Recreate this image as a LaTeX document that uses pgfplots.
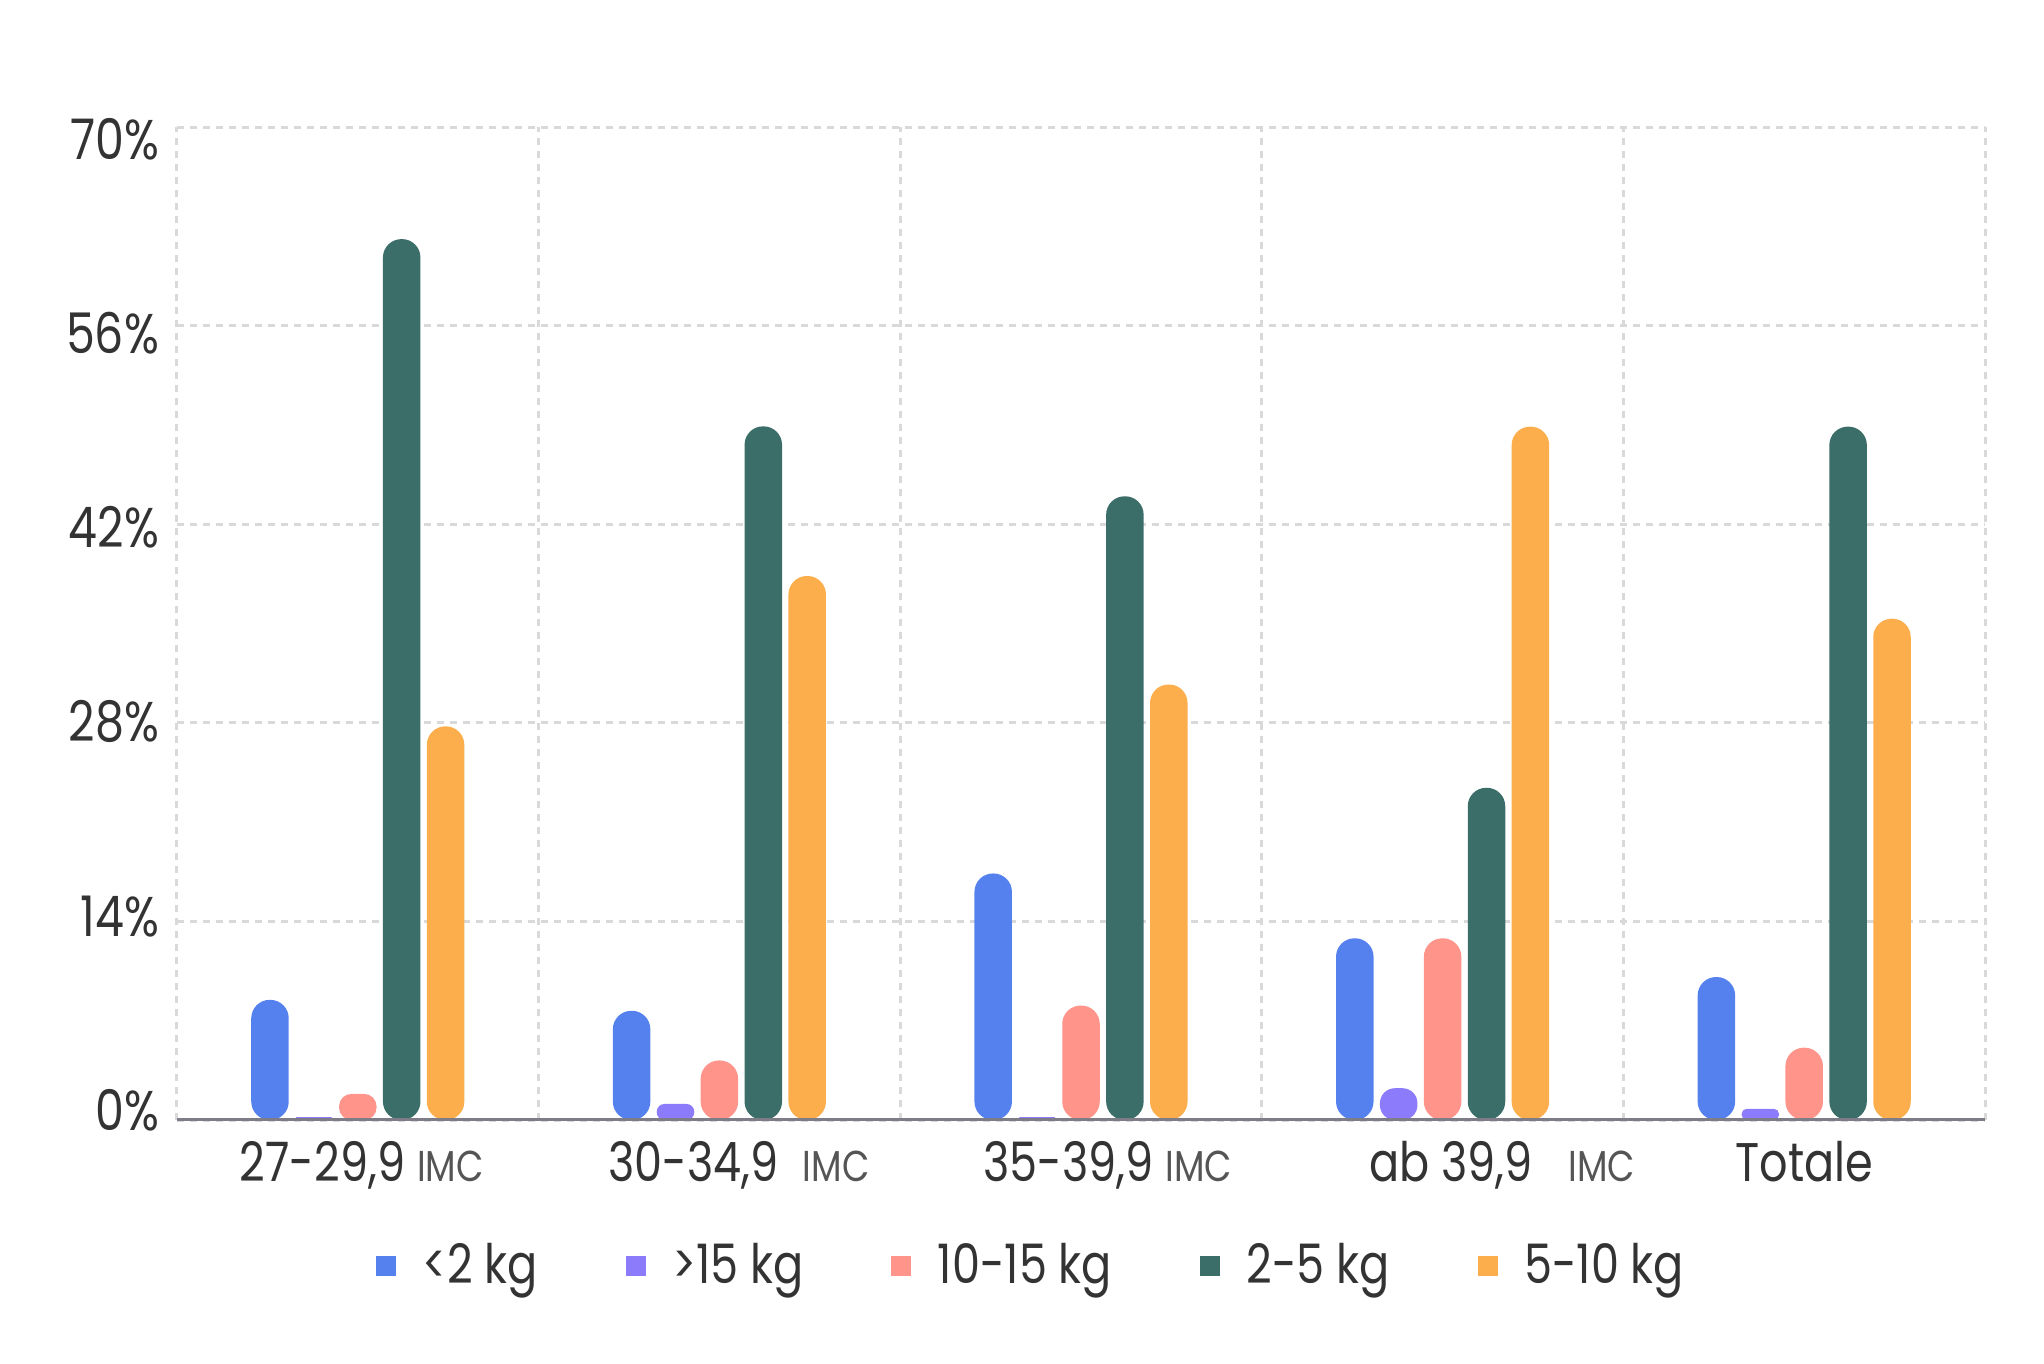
\documentclass[border=0pt]{standalone}
\usepackage{fontspec}
\setmainfont[FakeStretch=0.82]{Poppins}
\usepackage{pgfplots}
\pgfplotsset{compat=1.18}
\definecolor{cBlue}{HTML}{5581EF}
\definecolor{cPurple}{HTML}{8C7BFB}
\definecolor{cSalmon}{HTML}{FF948B}
\definecolor{cTeal}{HTML}{3C6E69}
\definecolor{cOrange}{HTML}{FDAE4C}
\definecolor{gridgray}{HTML}{D9D9D9}
\definecolor{axisgray}{HTML}{7D7C87}
\definecolor{txt}{HTML}{333333}
\definecolor{imcgray}{HTML}{555555}
\newcommand{\imc}{{\fontsize{10.8pt}{12pt}\selectfont\color{imcgray}IMC}}
\begin{document}
\begin{tikzpicture}
\useasboundingbox (0,0) rectangle (511pt,340.75pt);
\begin{axis}[
  at={(44.25pt,60.75pt)}, anchor=south west,
  width=452pt, height=248.25pt, scale only axis,
  xmin=-0.5, xmax=4.5, ymin=0, ymax=70,
  enlarge x limits=false,
  ybar, bar width=9.375pt,
  axis line style={draw=none},
  xtick={0,1,2,3,4},
  xticklabels={{27-29,9 \imc},{30-34,9\hspace{6pt}\imc},{35-39,9 \imc},{ab 39,9\hspace{9pt}\imc},{Totale}},
  minor xtick={-0.5,0.5,1.5,2.5,3.5,4.5},
  ytick={0,14,28,42,56,70},
  yticklabels={0\%,14\%,28\%,42\%,56\%,70\%},
  xminorgrids=true, ymajorgrids=true, xmajorgrids=false,
  grid style={draw=gridgray, line width=0.75pt, dash pattern=on 1.75pt off 1.5pt},
  minor grid style={draw=gridgray, line width=0.75pt, dash pattern=on 1.75pt off 1.5pt},
  major tick length=0pt, minor tick length=0pt,
  tick style={draw=none},
  xticklabel style={font=\fontsize{13.6pt}{16pt}\selectfont, text=txt, yshift=-1.7pt,
    xshift={{1,4.9,6.7,14.9,0}[\ticknum]*1pt}},
  yticklabel style={font=\fontsize{14pt}{16pt}\selectfont, text=txt, xshift=-1pt, yshift={(2.4-1.08*\ticknum)*1pt}},
  every axis plot/.append style={draw=none, forget plot},
  legend style={at={(0.474,-0.1475)}, anchor=center, draw=none, fill=none,
    font=\fontsize{13.6pt}{16pt}\selectfont, text=txt,
    /tikz/every even column/.append style={column sep=20pt}},
  legend columns=5,
  legend image code/.code={\fill[#1, rounded corners=0pt] (0pt,-2.5pt) rectangle (5pt,2.5pt); \path (9.6pt,0pt);},
]
% <2 kg
\addplot[fill=cBlue, bar shift=-21.95pt, rounded corners=4.6pt] coordinates {(0,8.47) (1,7.7) (2,17.38) (3,12.81) (4,10.08)};
% >15 kg
\addplot[fill=cPurple, bar shift=-10.975pt, rounded corners=0.33pt] coordinates {(0,0.2) (2,0.2)};
\addplot[fill=cPurple, bar shift=-10.975pt, rounded corners=1.9pt] coordinates {(1,1.13)};
\addplot[fill=cPurple, bar shift=-10.975pt, rounded corners=3.7pt] coordinates {(3,2.24)};
\addplot[fill=cPurple, bar shift=-10.975pt, rounded corners=1.3pt] coordinates {(4,0.79)};
% 10-15 kg
\addplot[fill=cSalmon, bar shift=0pt, rounded corners=3.1pt] coordinates {(0,1.84)};
\addplot[fill=cSalmon, bar shift=0pt, rounded corners=4.6pt] coordinates {(1,4.2) (2,8.07) (3,12.81) (4,5.1)};
% 2-5 kg
\addplot[fill=cTeal, bar shift=10.975pt, rounded corners=4.6pt] coordinates {(0,62.1) (1,48.9) (2,43.97) (3,23.42) (4,48.88)};
% 5-10 kg
\addplot[fill=cOrange, bar shift=21.95pt, rounded corners=4.6pt] coordinates {(0,27.75) (1,38.35) (2,30.7) (3,48.88) (4,35.34)};
\addlegendimage{fill=cBlue}
\addlegendentry{<2 kg}
\addlegendimage{fill=cPurple}
\addlegendentry{>15 kg}
\addlegendimage{fill=cSalmon}
\addlegendentry{10-15 kg}
\addlegendimage{fill=cTeal}
\addlegendentry{2-5 kg}
\addlegendimage{fill=cOrange}
\addlegendentry{5-10 kg}
\draw[axisgray, line width=1pt] (axis cs:-0.5,0) -- (axis cs:4.5,0);
\end{axis}
\end{tikzpicture}
\end{document}
